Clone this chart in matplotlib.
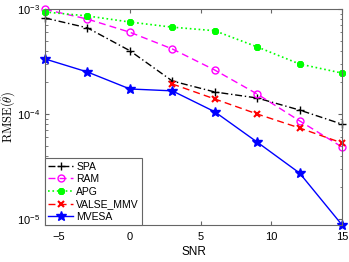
import matplotlib
matplotlib.use("Agg")
import matplotlib.pyplot as plt
from matplotlib.ticker import LogLocator, NullFormatter

snr = [-6, -3, 0, 3, 6, 9, 12, 15]
spa = [8.2e-4, 6.6e-4, 4.0e-4, 2.06e-4, 1.62e-4, 1.42e-4, 1.09e-4, 8.0e-5]
ram = [9.9e-4, 8.0e-4, 6.0e-4, 4.16e-4, 2.62e-4, 1.55e-4, 8.6e-5, 4.85e-5]
apg = [9.35e-4, 8.57e-4, 7.5e-4, 6.7e-4, 6.2e-4, 4.35e-4, 2.99e-4, 2.45e-4]
valse_snr = [3, 6, 9, 12, 15]
valse = [1.93e-4, 1.39e-4, 1.0e-4, 7.36e-5, 5.3e-5]
mvesa = [3.34e-4, 2.51e-4, 1.73e-4, 1.66e-4, 1.05e-4, 5.4e-5, 2.74e-5, 8.8e-6]

plt.rcParams["font.family"] = ["Liberation Sans", "DejaVu Sans"]
plt.rcParams["mathtext.fontset"] = "cm"

fig = plt.figure(figsize=(3.49, 2.62), dpi=100)
ax = fig.add_axes([0.129, 0.141, 0.851, 0.825])

# markers sit on the axes edges in the original, so don't clip them
ax.plot(snr, spa, color="black", ls=(0, (5, 2, 1, 2)), lw=1, marker="+", ms=6, mew=1,
        label="SPA", clip_on=False)
ax.plot(snr, ram, color="magenta", ls=(0, (5, 3)), lw=1, marker="o", ms=5, mfc="none",
        mew=1, label="RAM", clip_on=False)
ax.plot(snr, apg, color="#00ff00", ls=":", lw=1.2, marker=(8, 2, 0), ms=5, mew=1.5,
        label="APG", clip_on=False)
ax.plot(valse_snr, valse, color="red", ls=(0, (5, 3)), lw=1, marker="x", ms=4.5, mew=1.5,
        label="VALSE_MMV", clip_on=False)
ax.plot(snr, mvesa, color="blue", ls="-", lw=1, marker="*", ms=7, label="MVESA", clip_on=False)

ax.set_yscale("log")
ax.set_xlim(-6, 15)
ax.set_ylim(8.77e-6, 1e-3)
ax.set_xticks([-5, 0, 5, 10, 15])
ax.yaxis.set_major_locator(LogLocator(base=10, numticks=10))
ax.yaxis.set_minor_locator(LogLocator(base=10, subs=range(2, 10), numticks=10))
ax.yaxis.set_minor_formatter(NullFormatter())

for s in ax.spines.values():
    s.set_color("#666666")
    s.set_linewidth(0.8)
ax.tick_params(which="both", direction="in", top=True, right=True, colors="#666666",
               labelcolor="black", labelsize=8)
ax.tick_params(which="major", length=3)
ax.tick_params(axis="x", pad=5)
ax.tick_params(which="minor", length=1.8)

ax.set_xlabel("SNR", fontsize=8.5, labelpad=3)
ax.set_ylabel(r"$\mathrm{RMSE}(\hat{\theta})$", fontsize=9)
ax.yaxis.set_label_coords(-0.09, 0.5)

leg = ax.legend(loc="lower left", fontsize=7.5, fancybox=False, framealpha=1,
                edgecolor="#666666", borderaxespad=0, handlelength=2.4,
                handletextpad=0.3, labelspacing=0.25, borderpad=0.3)
leg.get_frame().set_linewidth(0.8)

fig.savefig("out.png", dpi=100)
